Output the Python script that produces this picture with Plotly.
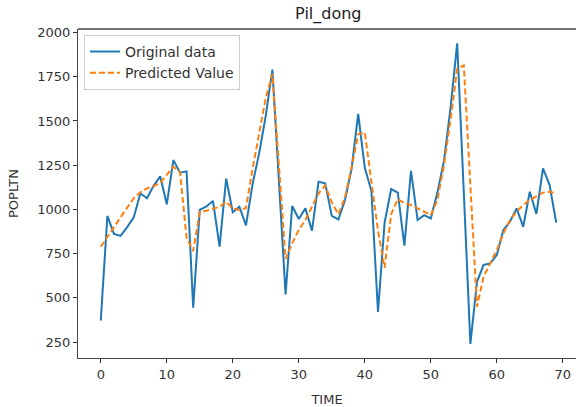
import plotly.graph_objects as go

time = list(range(70))
original = [372, 963, 862, 850, 900, 955, 1091, 1063, 1133, 1187,
            1029, 1279, 1208, 1215, 445, 998, 1017, 1048, 790, 1174,
            984, 1015, 910, 1143, 1318, 1530, 1790, 1160, 520, 1019,
            946, 1006, 880, 1157, 1147, 963, 943, 1053, 1230, 1540,
            1236, 1105, 420, 925, 1115, 1095, 795, 1218, 940, 968,
            949, 1095, 1275, 1576, 1939, 1100, 240, 591, 686, 695,
            742, 884, 930, 1006, 902, 1100, 975, 1232, 1138, 925]
predicted = [789, 846, 902, 959, 1010, 1063, 1097, 1119, 1132, 1150,
             1194, 1241, 1213, 840, 765, 987, 993, 1006, 1015, 1043,
             1005, 997, 1008, 1230, 1430, 1630, 1765, 1240, 720, 808,
             884, 940, 1015, 1091, 1135, 1040, 973, 1067, 1237, 1425,
             1435, 1170, 880, 670, 973, 1058, 1036, 1025, 1006, 987,
             968, 1053, 1250, 1510, 1795, 1815, 1140, 450, 620, 695,
             770, 865, 940, 987, 1025, 1053, 1072, 1095, 1100, 1091]
xticks = [0, 10, 20, 30, 40, 50, 60, 70]
yticks = [250, 500, 750, 1000, 1250, 1500, 1750, 2000]

font = "DejaVu Sans, sans-serif"

fig = go.Figure()
fig.add_trace(go.Scatter(x=time, y=original, mode="lines", name="Original data",
                         line=dict(color="#1f77b4", width=2)))
fig.add_trace(go.Scatter(x=time, y=predicted, mode="lines", name="Predicted Value",
                         line=dict(color="#ff7f0e", width=2, dash="6px,3px")))

# plot area: x 78..576 px, y 29..358 px
fig.update_layout(
    width=576, height=407,
    margin=dict(l=78, r=0, t=29, b=49, autoexpand=False),
    paper_bgcolor="white", plot_bgcolor="white",
    font=dict(family=font, size=12, color="#333333"),
    title=dict(text="Pil_dong", x=0.57, xanchor="center", y=0.968, yanchor="middle",
               font=dict(family=font, size=16, color="#222222")),
    showlegend=True,
    legend=dict(x=0.012, y=0.982, xanchor="left", yanchor="top",
                bgcolor="rgba(255,255,255,0.85)", bordercolor="#cccccc", borderwidth=1,
                font=dict(family=font, size=14, color="#333333"),
                tracegroupgap=2, itemwidth=30),
    xaxis=dict(range=[-3.45, 72.0], tickvals=xticks, ticks="outside", ticklen=4,
               tickcolor="#333333", showline=True, linecolor="#444444", linewidth=1,
               mirror=False, showgrid=False, zeroline=False, automargin=False,
               tickfont=dict(size=13),
               title=dict(text="TIME", font=dict(family=font, size=13))),
    yaxis=dict(range=[160, 2020], tickvals=yticks, ticks="outside", ticklen=4,
               tickcolor="#333333", showline=True, linecolor="#444444", linewidth=1,
               mirror=False, showgrid=False, zeroline=False, automargin=False,
               tickfont=dict(size=13),
               title=dict(text="POPLTN", font=dict(family=font, size=13))),
    shapes=[dict(type="line", xref="paper", yref="paper", x0=0, x1=1, y0=1, y1=1,
                 line=dict(color="#444444", width=1.5), layer="above")],
)

fig.write_html("out.html", config={"displayModeBar": False},
               post_script="document.body.style.margin='0';document.body.style.padding='0';")
